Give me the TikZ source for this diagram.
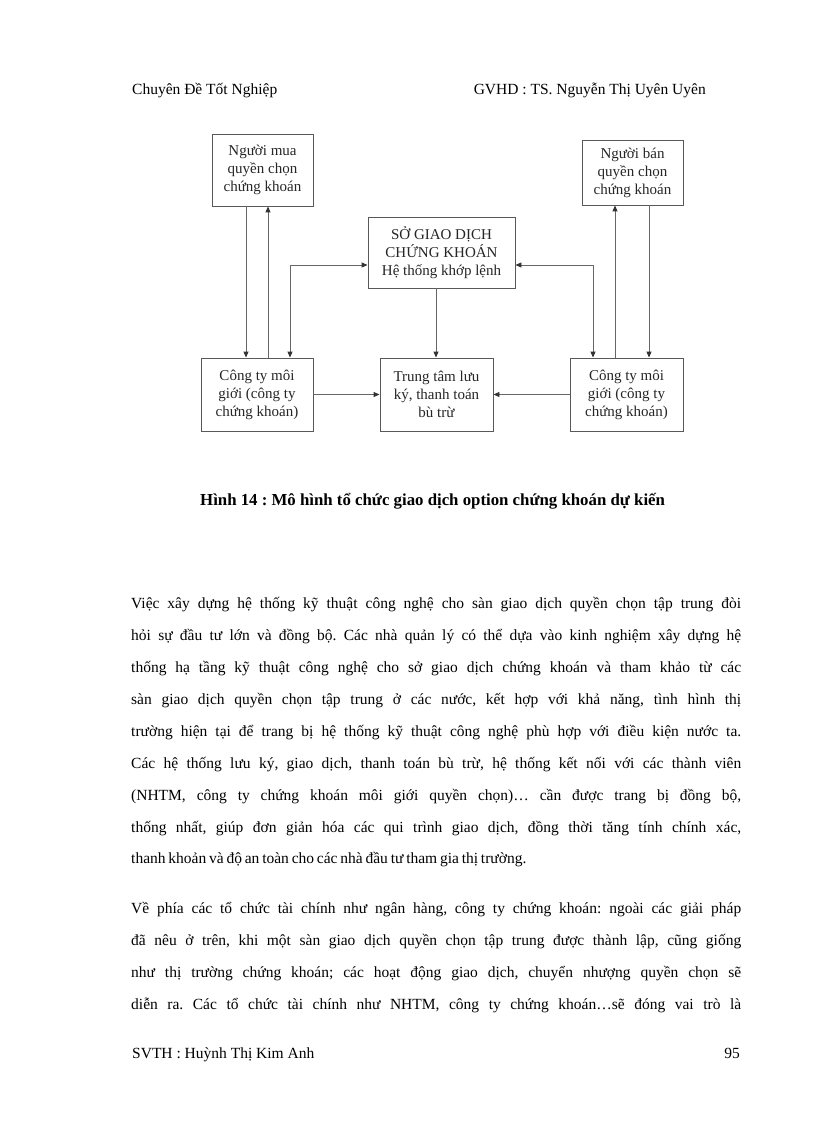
\documentclass[tikz,border=0pt]{standalone}
\usepackage{fontspec}
\setmainfont{Liberation Serif}
\usetikzlibrary{arrows.meta}
\begin{document}
\frenchspacing
\begin{tikzpicture}[x=1pt,y=-1pt,
  box/.style={draw=black!65, line width=0.9pt, align=center, inner sep=0pt,
    font=\fontsize{15}{18}\selectfont, text=black!85},
  arr/.style={draw=black!60, line width=0.9pt, -{Triangle[length=6pt,width=5pt,black!80]}},
  darr/.style={draw=black!60, line width=0.9pt, {Triangle[length=6pt,width=5pt,black!80]}-{Triangle[length=6pt,width=5pt,black!80]}},
  hdr/.style={anchor=base west, inner sep=0pt, font=\fontsize{15.5}{18}\selectfont},
  body/.style={anchor=base west, inner sep=0pt, font=\fontsize{15.5}{18}\selectfont\frenchspacing},
  captext/.style={anchor=base west, inner sep=0pt, font=\fontsize{16.8}{18}\selectfont\bfseries}]
\useasboundingbox[fill=white] (0,0) rectangle (816,1123);
\newcommand{\jline}[1]{\hbox to 610pt{#1}}

% header
\node[hdr] (h1) at (132,95) {Chuyên Đề Tốt Nghiệp};
\node[hdr, anchor=base east] (h2) at (706,95) {GVHD : TS. Nguyễn Thị Uyên Uyên};

% boxes
\node[box, minimum width=101pt, minimum height=72pt] (buyer) at (262.5,170) {Người mua\\quyền chọn\\chứng khoán};
\node[box, minimum width=101pt, minimum height=65pt] (seller) at (632.5,172.5) {Người bán\\quyền chọn\\chứng khoán};
\node[box, minimum width=147pt, minimum height=71pt] (sgd) at (441.5,252.5) {SỞ GIAO DỊCH\\CHỨNG KHOÁN\\Hệ thống khớp lệnh};
\node[box, minimum width=112pt, minimum height=73pt] (lbrk) at (257,394.5) {Công ty môi\\giới (công ty\\chứng khoán)};
\node[box, minimum width=113pt, minimum height=73pt] (ttl) at (436.5,394.5) {Trung tâm lưu\\ký, thanh toán\\bù trừ};
\node[box, minimum width=113pt, minimum height=73pt] (rbrk) at (626.5,394.5) {Công ty môi\\giới (công ty\\chứng khoán)};

% connectors
\draw[arr] ([xshift=-16.5pt]buyer.south) -- ([xshift=-11pt]lbrk.north);
\draw[arr] ([xshift=11pt]lbrk.north) -- ([xshift=5.5pt]buyer.south);
\draw[darr] ([xshift=33pt]lbrk.north) |- ([yshift=-12.5pt]sgd.west);
\draw[arr] ([xshift=-5.5pt]sgd.south) -- ([xshift=-0.5pt]ttl.north);
\draw[arr] (lbrk.east) -- (ttl.west);
\draw[arr] (rbrk.west) -- (ttl.east);
\draw[darr] ([yshift=-12.5pt]sgd.east) -| ([xshift=-33.5pt]rbrk.north);
\draw[arr] ([xshift=-11.5pt]rbrk.north) -- ([xshift=-17.5pt]seller.south);
\draw[arr] ([xshift=16.5pt]seller.south) -- ([xshift=22.5pt]rbrk.north);

% caption
\node[captext] (capt) at (200,505) {Hình 14 : Mô hình tổ chức giao dịch option chứng khoán dự kiến};

% body text
\node[body] (l1) at (131,608) {\jline{Việc xây dựng hệ thống kỹ thuật công nghệ cho sàn giao dịch quyền chọn tập trung đòi}};
\node[body] (l2) at (131,640) {\jline{hỏi sự đầu tư lớn và đồng bộ. Các nhà quản lý có thể dựa vào kinh nghiệm xây dựng hệ}};
\node[body] (l3) at (131,672) {\jline{thống hạ tầng kỹ thuật công nghệ cho sở giao dịch chứng khoán và tham khảo từ các}};
\node[body] (l4) at (131,704) {\jline{sàn giao dịch quyền chọn tập trung ở các nước, kết hợp với khả năng, tình hình thị}};
\node[body] (l5) at (131,736) {\jline{trường hiện tại để trang bị hệ thống kỹ thuật công nghệ phù hợp với điều kiện nước ta.}};
\node[body] (l6) at (131,768) {\jline{Các hệ thống lưu ký, giao dịch, thanh toán bù trừ, hệ thống kết nối với các thành viên}};
\node[body] (l7) at (131,800) {\jline{(NHTM, công ty chứng khoán môi giới quyền chọn)… cần được trang bị đồng bộ,}};
\node[body] (l8) at (131,832) {\jline{thống nhất, giúp đơn giản hóa các qui trình giao dịch, đồng thời tăng tính chính xác,}};
\node[body] (l9) at (131,863) {\spaceskip=2.8pt\relax thanh khoản và độ an toàn cho các nhà đầu tư tham gia thị trường.};
\node[body] (l10) at (131,913) {\jline{Về phía các tổ chức tài chính như ngân hàng, công ty chứng khoán: ngoài các giải pháp}};
\node[body] (l11) at (131,945) {\jline{đã nêu ở trên, khi một sàn giao dịch quyền chọn tập trung được thành lập, cũng giống}};
\node[body] (l12) at (131,977) {\jline{như thị trường chứng khoán; các hoạt động giao dịch, chuyển nhượng quyền chọn sẽ}};
\node[body] (l13) at (131,1009) {\jline{diễn ra. Các tổ chức tài chính như NHTM, công ty chứng khoán…sẽ đóng vai trò là}};

% footer
\node[hdr] (f1) at (132,1058) {SVTH : Huỳnh Thị Kim Anh};
\node[hdr, anchor=base east] (f2) at (740,1058) {95};
\end{tikzpicture}
\end{document}
